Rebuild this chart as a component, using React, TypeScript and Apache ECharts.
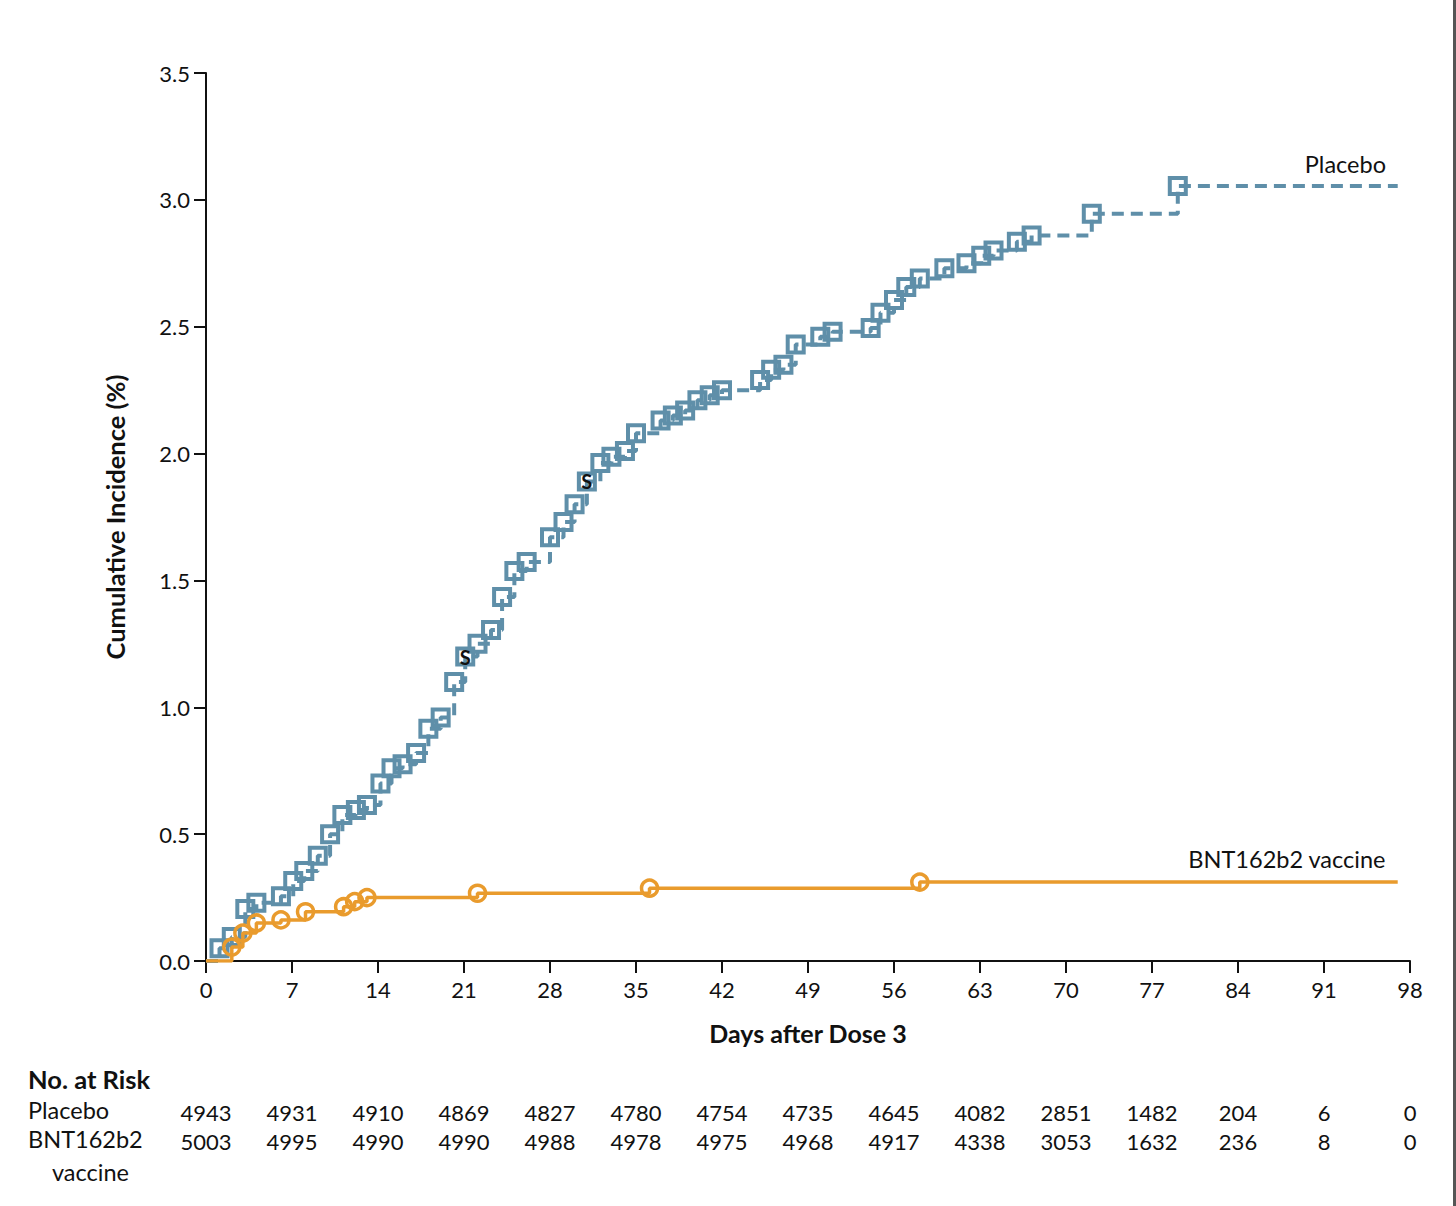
import React, { useEffect, useRef } from "react";
import * as echarts from "echarts";

const FONT = "Lato, 'Open Sans', sans-serif";
const BLUE = "#5f8fa9";
const ORANGE = "#e99b2d";

const xTicks = [0, 7, 14, 21, 28, 35, 42, 49, 56, 63, 70, 77, 84, 91, 98];
const placeboRisk = [4943, 4931, 4910, 4869, 4827, 4780, 4754, 4735, 4645, 4082, 2851, 1482, 204, 6, 0];
const vaccineRisk = [5003, 4995, 4990, 4990, 4988, 4978, 4975, 4968, 4917, 4338, 3053, 1632, 236, 8, 0];

// Placebo: [day, cumulative incidence %]
const placeboDays = [1.1, 2.1, 3.2, 4.1, 6.1, 7.1, 8.0, 9.1, 10.1, 11.1, 12.2, 13.1, 14.2, 15.1, 16.0, 17.1, 18.1, 19.1, 20.2, 21.1, 22.1, 23.2, 24.1, 25.1, 26.1, 28.0, 29.1, 30.0, 31.0, 32.1, 33.0, 34.1, 35.0, 37.0, 38.0, 39.0, 40.0, 41.0, 42.0, 45.1, 46.0, 47.0, 48.0, 50.0, 51.0, 54.1, 54.9, 56.0, 57.0, 58.1, 60.1, 61.9, 63.1, 64.1, 66.0, 67.2, 72.1, 79.1];
const placeboValues = [0.05, 0.095, 0.205, 0.23, 0.255, 0.315, 0.355, 0.415, 0.5, 0.575, 0.595, 0.615, 0.7, 0.76, 0.775, 0.82, 0.915, 0.96, 1.1, 1.2, 1.25, 1.305, 1.435, 1.537, 1.573, 1.67, 1.73, 1.8, 1.89, 1.963, 1.987, 2.01, 2.08, 2.13, 2.15, 2.17, 2.21, 2.23, 2.25, 2.29, 2.33, 2.35, 2.43, 2.46, 2.48, 2.495, 2.555, 2.605, 2.657, 2.69, 2.73, 2.75, 2.78, 2.8, 2.835, 2.86, 2.945, 3.055];
const placeboSevere = [21.1, 31.0];
const placeboEnd = 97;

const vaccineDays = [2.1, 3.0, 4.1, 6.1, 8.1, 11.2, 12.1, 13.1, 22.1, 36.1, 58.1];
const vaccineValues = [0.055, 0.11, 0.15, 0.162, 0.194, 0.214, 0.234, 0.25, 0.267, 0.287, 0.311];
const vaccineEnd = 97;

function buildSeriesData(days: number[], values: number[], end: number, severe: number[] = []) {
  const data: any[] = [{ value: [0, 0], symbol: "none" }];
  days.forEach((d, i) => {
    const item: any = { value: [d, values[i]] };
    if (severe.includes(d)) {
      item.label = {
        show: true,
        position: "inside",
        formatter: "S",
        color: "#111",
        fontWeight: "bold",
        fontSize: 20,
        fontFamily: FONT,
      };
    }
    data.push(item);
  });
  data.push({ value: [end, values[values.length - 1]], symbol: "none" });
  return data;
}

export default function App() {
  const ref = useRef<HTMLDivElement>(null);
  useEffect(() => {
    if (!ref.current) return;
    const chart = echarts.init(ref.current, null, { renderer: "svg" });
    const riskAxis = (vals: number[], offset: number) => ({
      type: "value",
      gridIndex: 0,
      position: "bottom",
      offset,
      min: 0,
      max: 98,
      interval: 7,
      axisLine: { show: false },
      axisTick: { show: false },
      splitLine: { show: false },
      axisLabel: {
        show: true,
        margin: 0,
        color: "#111",
        fontSize: 22,
        fontFamily: FONT,
        showMinLabel: true,
        showMaxLabel: true,
        formatter: (v: number) => {
          const idx = xTicks.indexOf(Math.round(v));
          return idx >= 0 ? String(vals[idx]) : "";
        },
      },
    });
    const option: any = {
      animation: false,
      backgroundColor: "#fff",
      grid: { left: 206, right: 46, top: 73, bottom: 245, containLabel: false },
      xAxis: [
        {
          type: "value",
          min: 0,
          max: 98,
          interval: 7,
          name: "Days after Dose 3",
          nameLocation: "middle",
          nameGap: 59,
          nameTextStyle: { fontSize: 25, fontWeight: "bold", color: "#111", fontFamily: FONT },
          axisLine: { show: true, onZero: false, lineStyle: { color: "#111", width: 2 } },
          axisTick: { show: true, length: 12, lineStyle: { color: "#111", width: 2 } },
          splitLine: { show: false },
          axisLabel: {
            margin: 17,
            color: "#111",
            fontSize: 22,
            fontFamily: FONT,
            showMinLabel: true,
            showMaxLabel: true,
          },
        },
        riskAxis(placeboRisk, 140),
        riskAxis(vaccineRisk, 169),
      ],
      yAxis: {
        type: "value",
        min: 0,
        max: 3.5,
        interval: 0.5,
        name: "Cumulative Incidence (%)",
        nameLocation: "middle",
        nameGap: 78,
        nameTextStyle: { fontSize: 25.5, fontWeight: "bold", color: "#111", fontFamily: FONT },
        axisLine: { show: true, lineStyle: { color: "#111", width: 2 } },
        axisTick: { show: true, length: 12, lineStyle: { color: "#111", width: 2 } },
        splitLine: { show: false },
        axisLabel: {
          margin: 16,
          color: "#111",
          fontSize: 22,
          fontFamily: FONT,
          formatter: (v: number) => v.toFixed(1),
        },
      },
      series: [
        {
          type: "line",
          name: "Placebo",
          step: "end",
          xAxisIndex: 0,
          data: buildSeriesData(placeboDays, placeboValues, placeboEnd, placeboSevere),
          showAllSymbol: true,
          symbol: "rect",
          symbolSize: 16,
          itemStyle: { color: "rgba(255,255,255,0)", borderColor: BLUE, borderWidth: 4 },
          lineStyle: { color: BLUE, width: 4, type: [12, 7] },
          z: 3,
        },
        {
          type: "line",
          name: "BNT162b2 vaccine",
          step: "end",
          xAxisIndex: 0,
          data: buildSeriesData(vaccineDays, vaccineValues, vaccineEnd),
          showAllSymbol: true,
          symbol: "circle",
          symbolSize: 16,
          itemStyle: { color: "rgba(255,255,255,0)", borderColor: ORANGE, borderWidth: 3.5 },
          lineStyle: { color: ORANGE, width: 3.5 },
          z: 4,
        },
      ],
      graphic: [
        {
          type: "text",
          right: 70,
          top: 152,
          style: { text: "Placebo", fontSize: 23.5, fontFamily: FONT, fill: "#111" },
        },
        {
          type: "text",
          right: 70,
          top: 847,
          style: { text: "BNT162b2 vaccine", fontSize: 23.5, fontFamily: FONT, fill: "#111" },
        },
        {
          type: "text",
          left: 28,
          top: 1066,
          style: { text: "No. at Risk", fontSize: 25.5, fontWeight: "bold", fontFamily: FONT, fill: "#111" },
        },
        {
          type: "text",
          left: 28,
          top: 1098,
          style: { text: "Placebo", fontSize: 23.5, fontFamily: FONT, fill: "#111" },
        },
        {
          type: "text",
          left: 28,
          top: 1127,
          style: { text: "BNT162b2", fontSize: 23.5, fontFamily: FONT, fill: "#111" },
        },
        {
          type: "text",
          left: 52,
          top: 1160,
          style: { text: "vaccine", fontSize: 23.5, fontFamily: FONT, fill: "#111" },
        },
        {
          type: "rect",
          shape: { x: 1453, y: 0, width: 3, height: 1206 },
          style: { fill: "#555" },
        },
      ],
    };
    chart.setOption(option);
    return () => chart.dispose();
  }, []);
  return (
    <div
      ref={ref}
      style={{ position: "fixed", left: 0, top: 0, width: 1456, height: 1206, background: "#fff" }}
    />
  );
}
